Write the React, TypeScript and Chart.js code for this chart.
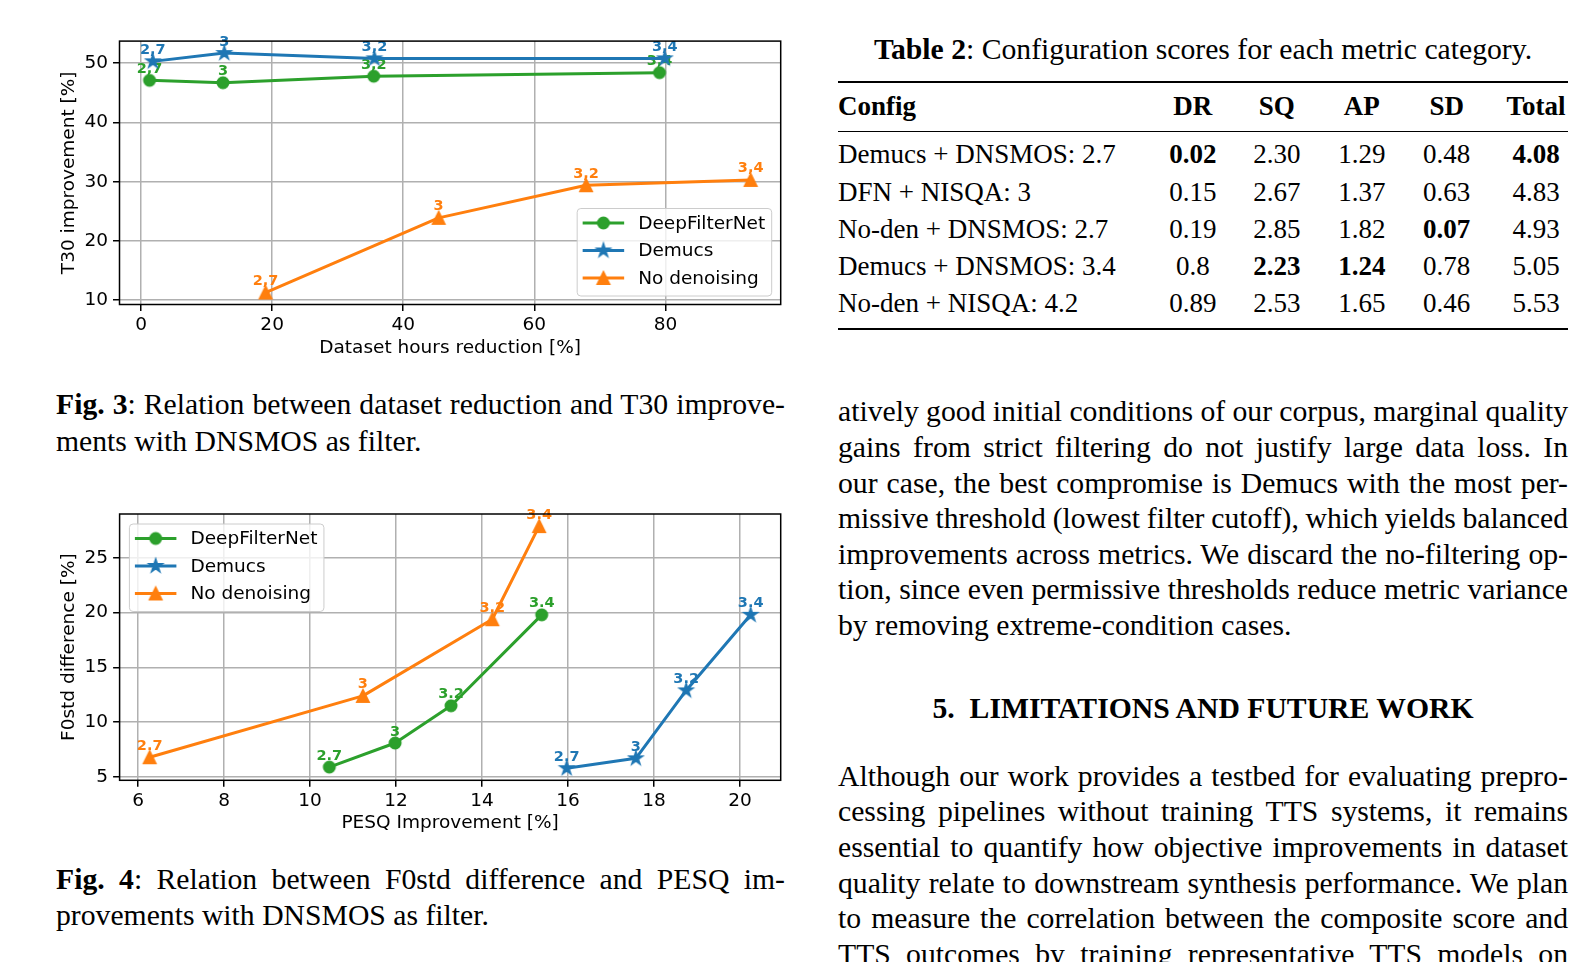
import React, { useEffect, useLayoutEffect, useRef } from "react";
import { Chart, registerables } from "chart.js";

Chart.register(...registerables);

// ---------------- data ----------------
const seriesNames = ["DeepFilterNet", "Demucs", "No denoising"];
const seriesColors = ["#2ca02c", "#1f77b4", "#ff7f0e"];
const seriesMarkers = ["circle", "star", "triangle"];

// Fig. 3 : dataset hours reduction [%] vs T30 improvement [%]
const fig3PointLabels = ["2,7", "3", "3,2", "3,4"];
const fig3DfnReduction = [1.3, 12.5, 35.5, 79.1];
const fig3DfnT30 = [47.1, 46.7, 47.8, 48.4];
const fig3DemucsReduction = [1.8, 12.7, 35.6, 79.9];
const fig3DemucsT30 = [50.3, 51.7, 50.8, 50.8];
const fig3NoDenReduction = [19.0, 45.4, 67.9, 93.0];
const fig3NoDenT30 = [11.3, 23.9, 29.4, 30.3];
const fig3XTicks = [0, 20, 40, 60, 80];
const fig3YTicks = [10, 20, 30, 40, 50];

// Fig. 4 : PESQ improvement [%] vs F0std difference [%]
const fig4PointLabels = ["2.7", "3", "3.2", "3.4"];
const fig4DfnPesq = [10.45, 11.98, 13.28, 15.39];
const fig4DfnF0std = [5.9, 8.1, 11.5, 19.8];
const fig4DemucsPesq = [15.97, 17.58, 18.75, 20.25];
const fig4DemucsF0std = [5.8, 6.7, 12.9, 19.8];
const fig4NoDenPesq = [6.27, 11.23, 14.24, 15.33];
const fig4NoDenF0std = [6.8, 12.4, 19.4, 27.9];
const fig4XTicks = [6, 8, 10, 12, 14, 16, 18, 20];
const fig4YTicks = [5, 10, 15, 20, 25];

// Table 2
const tableHeaders = ["Config", "DR", "SQ", "AP", "SD", "Total"];
const tableConfigs = [
  "Demucs + DNSMOS: 2.7",
  "DFN + NISQA: 3",
  "No-den + DNSMOS: 2.7",
  "Demucs + DNSMOS: 3.4",
  "No-den + NISQA: 4.2",
];
const tableDR = ["0.02", "0.15", "0.19", "0.8", "0.89"];
const tableSQ = ["2.30", "2.67", "2.85", "2.23", "2.53"];
const tableAP = ["1.29", "1.37", "1.82", "1.24", "1.65"];
const tableSD = ["0.48", "0.63", "0.07", "0.78", "0.46"];
const tableTotal = ["4.08", "4.83", "4.93", "5.05", "5.53"];
const tableBold = ["0-1", "0-5", "2-4", "3-2", "3-3"]; // row-col

// Text
const fig3Caption = [
  "*Fig.\u00a03*: Relation between dataset reduction and T30 improve-",
  "ments with DNSMOS as filter.",
];
const fig4Caption = [
  "*Fig.\u00a04*: Relation between F0std difference and PESQ im-",
  "provements with DNSMOS as filter.",
];
const tableCaption = "*Table 2*: Configuration scores for each metric category.";
const paragraph1 = [
  "atively good initial conditions of our corpus, marginal quality",
  "gains from strict filtering do not justify large data loss.  In",
  "our case, the best compromise is Demucs with the most per-",
  "missive threshold (lowest filter cutoff), which yields balanced",
  "improvements across metrics. We discard the no-filtering op-",
  "tion, since even permissive thresholds reduce metric variance",
  "by removing extreme-condition cases.",
];
const sectionHeading = "5.\u00a0\u00a0LIMITATIONS AND FUTURE WORK";
const paragraph2 = [
  "Although our work provides a testbed for evaluating prepro-",
  "cessing pipelines without training TTS systems, it remains",
  "essential to quantify how objective improvements in dataset",
  "quality relate to downstream synthesis performance. We plan",
  "to measure the correlation between the composite score and",
  "TTS outcomes by training representative TTS models on",
];

// ---------------- helpers ----------------
const SANS = "'DejaVu Sans', sans-serif";
const SERIF = "'Liberation Serif', 'Times New Roman', serif";
const CHART_FONT = 18.5;

function makeMarker(kind: string, color: string): HTMLCanvasElement {
  const c = document.createElement("canvas");
  const S = 24;
  c.width = S;
  c.height = S;
  const ctx = c.getContext("2d")!;
  ctx.fillStyle = color;
  ctx.strokeStyle = color;
  ctx.lineWidth = 1.8;
  ctx.lineJoin = "miter";
  const cx = S / 2;
  const cy = S / 2;
  ctx.beginPath();
  if (kind === "star") {
    const R = 6.6;
    const r = R * 0.381966;
    for (let i = 0; i < 10; i++) {
      const a = -Math.PI / 2 + (i * Math.PI) / 5;
      const rr = i % 2 === 0 ? R : r;
      const px = cx + rr * Math.cos(a);
      const py = cy + rr * Math.sin(a);
      if (i === 0) ctx.moveTo(px, py);
      else ctx.lineTo(px, py);
    }
  } else if (kind === "triangle") {
    const h = 6.0;
    ctx.moveTo(cx, cy - h);
    ctx.lineTo(cx + h, cy + h);
    ctx.lineTo(cx - h, cy + h);
  } else {
    ctx.arc(cx, cy, 5.6, 0, Math.PI * 2);
  }
  ctx.closePath();
  ctx.fill();
  ctx.stroke();
  return c;
}

type Series = { x: number[]; y: number[] };

type ChartProps = {
  left: number;
  top: number;
  width: number;
  height: number;
  area: { left: number; top: number; right: number; bottom: number };
  xTitle: string;
  yTitle: string;
  xTicks: number[];
  yTicks: number[];
  series: Series[];
  pointLabels: string[];
  legendCorner: "lower right" | "upper left";
};

function limits(arr: number[]): [number, number] {
  const mn = Math.min(...arr);
  const mx = Math.max(...arr);
  const m = (mx - mn) * 0.05;
  return [mn - m, mx + m];
}

function ScatterChart(p: ChartProps) {
  const ref = useRef<HTMLCanvasElement>(null);
  useEffect(() => {
    const canvas = ref.current!;
    const [xmin, xmax] = limits(p.series.flatMap((s) => s.x));
    const [ymin, ymax] = limits(p.series.flatMap((s) => s.y));
    const markers = seriesMarkers.map((m, i) => makeMarker(m, seriesColors[i]));
    const font = { family: SANS, size: CHART_FONT };
    const titleOffset = (CHART_FONT * 1.2) / 2;

    const overlay = {
      id: "overlay",
      afterDatasetDraw(chart: any, args: any) {
        const ctx = chart.ctx;
        const i = args.index;
        ctx.save();
        ctx.font = `bold 14.5px ${SANS}`;
        ctx.textAlign = "center";
        ctx.textBaseline = "alphabetic";
        ctx.fillStyle = seriesColors[i];
        args.meta.data.forEach((pt: any, j: number) => {
          ctx.fillText(p.pointLabels[j], pt.x, pt.y - 7.5);
        });
        ctx.restore();
      },
      afterDatasetsDraw(chart: any) {
        const ctx = chart.ctx;
        const a = chart.chartArea;
        ctx.save();
        ctx.strokeStyle = "#000";
        ctx.lineWidth = 1.5;
        ctx.strokeRect(a.left, a.top, a.right - a.left, a.bottom - a.top);
        ctx.restore();
      },
      afterDraw(chart: any) {
        const ctx = chart.ctx;
        const a = chart.chartArea;
        ctx.save();
        ctx.font = `${CHART_FONT}px ${SANS}`;
        const tw = Math.max(...seriesNames.map((n) => ctx.measureText(n).width));
        const padL = 5.5;
        const handle = 41.5;
        const gap = 14;
        const padR = 6.5;
        const w = padL + handle + gap + tw + padR;
        const h = 87.5;
        let bx: number;
        let by: number;
        if (p.legendCorner === "lower right") {
          bx = a.right - 9 - w;
          by = a.bottom - 8.5 - h;
        } else {
          bx = a.left + 9.8;
          by = a.top + 10;
        }
        ctx.beginPath();
        ctx.roundRect(bx, by, w, h, 3.7);
        ctx.fillStyle = "rgba(255,255,255,0.8)";
        ctx.fill();
        ctx.strokeStyle = "#cccccc";
        ctx.lineWidth = 1;
        ctx.stroke();
        seriesNames.forEach((name, i) => {
          const ry = by + 14.5 + i * 27.5;
          ctx.beginPath();
          ctx.moveTo(bx + padL, ry);
          ctx.lineTo(bx + padL + handle, ry);
          ctx.strokeStyle = seriesColors[i];
          ctx.lineWidth = 3;
          ctx.stroke();
          const mk = markers[i];
          ctx.drawImage(mk, bx + padL + handle / 2 - mk.width / 2, ry - mk.height / 2);
          ctx.fillStyle = "#000";
          ctx.textAlign = "left";
          ctx.textBaseline = "middle";
          ctx.fillText(name, bx + padL + handle + gap, ry + 1);
        });
        ctx.restore();
      },
    };

    const chart = new Chart(canvas, {
      type: "scatter",
      data: {
        datasets: p.series.map((s, i) => ({
          label: seriesNames[i],
          data: s.x.map((x, j) => ({ x, y: s.y[j] })),
          showLine: true,
          borderColor: seriesColors[i],
          backgroundColor: seriesColors[i],
          borderWidth: 3,
          borderJoinStyle: "round",
          pointStyle: markers[i],
          pointRadius: 6,
          pointHoverRadius: 6,
          pointBorderWidth: 0,
          order: 3 - i,
        })) as any,
      },
      options: {
        animation: false,
        responsive: false,
        events: [],
        layout: {
          padding: {
            left: 0,
            top: p.area.top - p.top,
            right: p.left + p.width - p.area.right,
            bottom: 0,
          },
        },
        plugins: {
          legend: { display: false },
          tooltip: { enabled: false },
        },
        scales: {
          x: {
            type: "linear",
            min: xmin,
            max: xmax,
            afterBuildTicks: (s: any) => {
              s.ticks = p.xTicks.map((v) => ({ value: v }));
            },
            afterFit: (s: any) => {
              s.height = p.top + p.height - p.area.bottom;
            },
            grid: {
              color: "#b0b0b0",
              lineWidth: 1.5,
              drawTicks: true,
              tickLength: 6.5,
              tickColor: "#000",
              tickWidth: 1.5,
            },
            border: { display: false },
            ticks: {
              color: "#000",
              font,
              padding: 3,
              autoSkip: false,
              maxRotation: 0,
              minRotation: 0,
              includeBounds: false,
              callback: (v: any) => String(v),
            },
            title: {
              display: true,
              text: p.xTitle,
              color: "#000",
              font,
              padding: { top: 0, bottom: 11 },
            },
          },
          y: {
            type: "linear",
            min: ymin,
            max: ymax,
            afterBuildTicks: (s: any) => {
              s.ticks = p.yTicks.map((v) => ({ value: v }));
            },
            afterFit: (s: any) => {
              s.width = p.area.left - p.left;
            },
            grid: {
              color: "#b0b0b0",
              lineWidth: 1.5,
              drawTicks: true,
              tickLength: 6.5,
              tickColor: "#000",
              tickWidth: 1.5,
            },
            border: { display: false },
            ticks: {
              color: "#000",
              font,
              padding: 5,
              autoSkip: false,
              includeBounds: false,
              callback: (v: any) => String(v),
            },
            title: {
              display: true,
              text: p.yTitle,
              color: "#000",
              font,
              padding: { top: 69 - p.left - titleOffset, bottom: 0 },
            },
          },
        },
      } as any,
      plugins: [overlay],
    });
    return () => chart.destroy();
  }, []);
  return (
    <canvas
      ref={ref}
      width={p.width}
      height={p.height}
      style={{ position: "absolute", left: p.left, top: p.top, width: p.width, height: p.height }}
    />
  );
}

function rich(text: string) {
  return text.split("*").map((seg, k) =>
    seg ? (
      <span key={k} style={k % 2 ? { fontWeight: "bold" } : undefined}>
        {seg}
      </span>
    ) : null
  );
}

const LH = 35.6;
const BODY = 29.7;
const TEXT_SHIFT = 17.5;

function Line(props: {
  x: number;
  y: number;
  w: number;
  text: string;
  justify?: boolean;
  center?: boolean;
  size?: number;
  bold?: boolean;
}) {
  const { x, y, w, text, justify, center, size = BODY, bold } = props;
  const spanRef = useRef<HTMLSpanElement>(null);
  useLayoutEffect(() => {
    if (!justify || !spanRef.current) return;
    const el = spanRef.current;
    el.style.wordSpacing = "0px";
    const natural = el.getBoundingClientRect().width;
    const spaces = (text.replace(/ +/g, " ").match(/[ \u00a0]/g) || []).length;
    if (spaces > 0) el.style.wordSpacing = (w - natural) / spaces + "px";
  }, [text, w, justify]);
  return (
    <div
      style={{
        position: "absolute",
        left: x,
        top: y - TEXT_SHIFT,
        width: w,
        height: LH,
        lineHeight: LH + "px",
        fontSize: size,
        fontWeight: bold ? "bold" : "normal",
        textAlign: center ? "center" : "left",
        whiteSpace: "nowrap",
      }}
    >
      <span ref={spanRef}>{rich(text)}</span>
    </div>
  );
}

function Table2() {
  const colCenters = [0, 1192.8, 1276.8, 1361.8, 1446.7, 1536];
  const rowY = [154.8, 192, 229.2, 266.4, 303.6];
  const cols = [tableConfigs, tableDR, tableSQ, tableAP, tableSD, tableTotal];
  const TS = 27;
  const cell = (text: string, c: number, y: number, bold: boolean, key: string) => (
    <div
      key={key}
      style={{
        position: "absolute",
        left: c === 0 ? 838 : colCenters[c] - 60,
        width: c === 0 ? 320 : 120,
        top: y - TEXT_SHIFT,
        height: LH,
        lineHeight: LH + "px",
        fontSize: TS,
        fontWeight: bold ? "bold" : "normal",
        textAlign: c === 0 ? "left" : "center",
        whiteSpace: "nowrap",
      }}
    >
      {text}
    </div>
  );
  return (
    <>
      <Line x={838} y={49.3} w={730} text={tableCaption} center />
      <div style={{ position: "absolute", left: 838, top: 81.3, width: 730, height: 2, background: "#000" }} />
      <div style={{ position: "absolute", left: 838, top: 131.1, width: 730, height: 1.2, background: "#000" }} />
      <div style={{ position: "absolute", left: 838, top: 328, width: 730, height: 2, background: "#000" }} />
      {tableHeaders.map((h, c) => cell(h, c, 106, true, "h" + c))}
      {rowY.map((y, r) => cols.map((col, c) => cell(col[r], c, y, tableBold.includes(`${r}-${c}`), `r${r}c${c}`)))}
    </>
  );
}

export default function App() {
  return (
    <div
      style={{
        position: "absolute",
        left: 0,
        top: 0,
        width: 1587,
        height: 962,
        overflow: "hidden",
        background: "#fff",
        fontFamily: SERIF,
        color: "#000",
      }}
    >
      <ScatterChart
        left={40}
        top={25}
        width={760}
        height={345}
        area={{ left: 119.5, top: 38.5, right: 780.7, bottom: 304.5 }}
        xTitle="Dataset hours reduction [%]"
        yTitle="T30 improvement [%]"
        xTicks={fig3XTicks}
        yTicks={fig3YTicks}
        series={[
          { x: fig3DfnReduction, y: fig3DfnT30 },
          { x: fig3DemucsReduction, y: fig3DemucsT30 },
          { x: fig3NoDenReduction, y: fig3NoDenT30 },
        ]}
        pointLabels={fig3PointLabels}
        legendCorner="lower right"
      />
      <ScatterChart
        left={40}
        top={495}
        width={760}
        height={350}
        area={{ left: 119.6, top: 514, right: 780.7, bottom: 780.3 }}
        xTitle="PESQ Improvement [%]"
        yTitle="F0std difference [%]"
        xTicks={fig4XTicks}
        yTicks={fig4YTicks}
        series={[
          { x: fig4DfnPesq, y: fig4DfnF0std },
          { x: fig4DemucsPesq, y: fig4DemucsF0std },
          { x: fig4NoDenPesq, y: fig4NoDenF0std },
        ]}
        pointLabels={fig4PointLabels}
        legendCorner="upper left"
      />
      {fig3Caption.map((t, i) => (
        <Line key={"c3" + i} x={56} y={404.8 + i * 36.4} w={729} text={t} justify={i === 0} />
      ))}
      {fig4Caption.map((t, i) => (
        <Line key={"c4" + i} x={56} y={879.4 + i * 36.4} w={729} text={t} justify={i === 0} />
      ))}
      <Table2 />
      {paragraph1.map((t, i) => (
        <Line key={"p1" + i} x={838} y={411.9 + i * 35.58} w={730} text={t} justify={i < paragraph1.length - 1} />
      ))}
      <Line x={838} y={708.4} w={730} text={sectionHeading} center bold />
      {paragraph2.map((t, i) => (
        <Line key={"p2" + i} x={838} y={776.2 + i * 35.6} w={730} text={t} justify />
      ))}
    </div>
  );
}
